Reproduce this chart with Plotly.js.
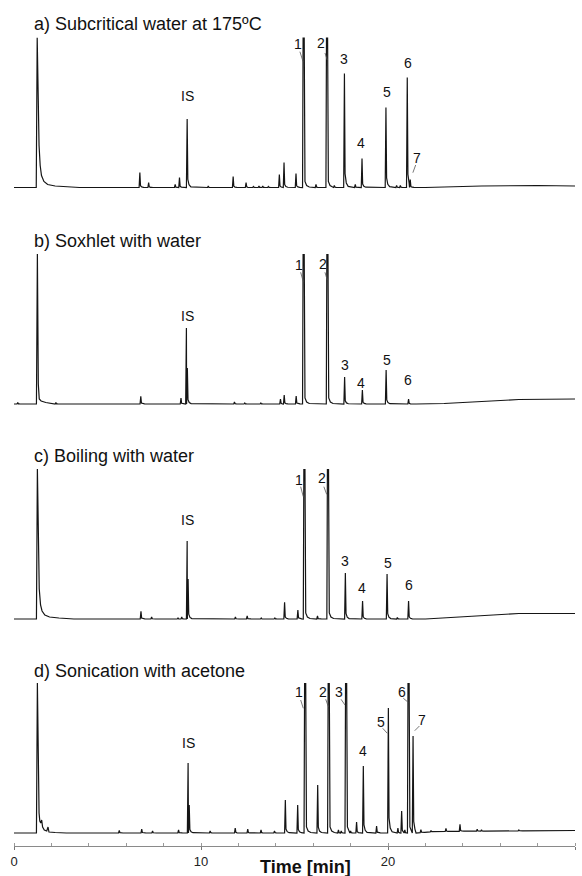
<!DOCTYPE html>
<html>
<head>
<meta charset="utf-8">
<script src="https://cdn.plot.ly/plotly-3.0.1.min.js"></script>
<style>html,body{margin:0;padding:0;background:#fff;}#chart{width:582px;height:876px;}</style>
</head>
<body>
<div id="chart"></div>
<script>
// ---------------- DATA ----------------
// times in min, signal heights in relative units (150 = full panel height)
const panelTitles = ["a) Subcritical water at 175ºC", "b) Soxhlet with water", "c) Boiling with water", "d) Sonication with acetone"];
const xTickVals = [0, 10, 20, 30];
const xTitle = "Time [min]";

// solvent front (explicit points)
const aSolventT = [1.19, 1.24, 1.29, 1.34, 1.40, 1.47, 1.60, 1.80, 2.20, 3.00, 3.50];
const aSolventY = [0, 150, 90, 42, 22, 12, 6, 3, 1.5, 0.5, 0];
const bSolventT = [1.20, 1.25, 1.30, 1.35, 1.45, 1.70, 2.20];
const bSolventY = [0, 150, 20, 5, 3, 1.5, 0.5];
const cSolventT = [1.20, 1.25, 1.30, 1.35, 1.42, 1.50, 1.65, 1.90, 2.40, 3.20];
const cSolventY = [0, 150, 80, 30, 14, 8, 4, 2, 1, 0];
const dSolventT = [1.20, 1.25, 1.30, 1.34, 1.38, 1.43, 1.48, 1.53, 1.62, 1.75, 1.82, 1.87, 2.20, 2.80];
const dSolventY = [0, 150, 60, 20, 12, 10, 13, 6, 3, 2, 6, 1, 0.5, 0];

// peaks: retention time / height
const aPeakT = [6.73, 7.20, 8.62, 8.85, 9.26, 10.39, 11.72, 12.41, 12.80, 13.10, 13.30, 13.60, 14.19, 14.44, 15.08, 15.49, 16.15, 16.74, 17.13, 17.67, 18.25, 18.61, 19.89, 20.46, 20.66, 21.03, 21.19];
const aPeakH = [15, 5, 3, 10, 68.5, 1.5, 11, 5, 1, 1.5, 1.5, 1, 13, 25, 14, 150, 3, 150, 2, 114, 3, 29, 80, 2, 2, 110, 8];
const bPeakT = [0.20, 2.24, 6.78, 8.93, 9.22, 9.27, 11.79, 12.34, 13.20, 14.25, 14.45, 15.09, 15.49, 16.76, 17.68, 18.63, 19.90, 21.10];
const bPeakH = [1.5, 1.5, 7.7, 6, 76, 36, 2, 1, 1, 5, 9, 8, 150, 150, 27, 14, 34, 5];
const cPeakT = [6.79, 7.36, 8.77, 8.97, 9.26, 9.31, 11.84, 12.47, 13.22, 13.95, 14.47, 15.18, 15.53, 16.23, 16.79, 17.72, 18.64, 19.95, 20.50, 21.10];
const cPeakH = [7.7, 2, 1, 2, 78, 40, 2, 3, 1, 1, 16.7, 9, 150, 3, 150, 46, 18, 45, 1.5, 18];
const dPeakT = [5.63, 6.83, 7.41, 8.80, 9.31, 9.37, 10.49, 11.83, 12.50, 13.21, 13.93, 14.51, 15.17, 15.57, 16.24, 16.83, 17.35, 17.50, 17.76, 18.00, 18.32, 18.68, 19.39, 20.02, 20.53, 20.73, 20.90, 21.10, 21.34, 21.76, 22.30, 23.10, 23.85, 24.77, 25.00, 27.00];
const dPeakH = [2.5, 4, 2, 3, 70, 28, 2, 5, 4, 3, 2, 33, 28, 150, 48, 150, 3, 2, 150, 2, 11, 67, 7, 125, 5, 22, 3, 150, 97, 3, 1, 3, 7, 2, 1.5, 1];

// baseline drift knots
const aBaseT = [0, 22, 25, 28, 30];
const aBaseY = [0, 0, 1.5, 2, 1.5];
const bBaseT = [0, 21.5, 23, 25, 27, 30];
const bBaseY = [0, 0, 0.5, 2.5, 4.5, 5];
const cBaseT = [0, 22, 24, 27, 30];
const cBaseY = [0, 0, 2, 5.5, 5.5];
const dBaseT = [0, 21.5, 22.5, 30];
const dBaseY = [0, 0, 1.5, 2.5];

// ---------------- BUILD ----------------
function baseAt(t, bt, by) {
  if (t <= bt[0]) return by[0];
  for (let i = 1; i < bt.length; i++) {
    if (t <= bt[i]) return by[i - 1] + (by[i] - by[i - 1]) * (t - bt[i - 1]) / (bt[i] - bt[i - 1]);
  }
  return by[by.length - 1];
}
function buildTrace(solT, solY, pkT, pkH, bt, by) {
  const segs = [];
  segs.push(solT.map((t, i) => [t, solY[i]]));
  pkT.forEach((t, i) => {
    const h = pkH[i];
    if (h >= 150) segs.push([[t - 0.06, 0], [t - 0.03, h], [t + 0.03, h], [t + 0.07, 6], [t + 0.16, 2], [t + 0.3, 0.5]]);
    else segs.push([[t - 0.04, 0], [t, h], [t + 0.035, 0.12 * h], [t + 0.1, 0.04 * h], [t + 0.2, 0.01 * h]]);
  });
  bt.forEach(t => segs.push([[t, 0]]));
  segs.sort((a, b) => a[0][0] - b[0][0]);
  const pts = [];
  segs.forEach((s, k) => {
    const next = k + 1 < segs.length ? segs[k + 1][0][0] : Infinity;
    s.forEach(p => {
      if (p[0] < next && (pts.length === 0 || p[0] > pts[pts.length - 1][0])) pts.push(p);
    });
  });
  return { x: pts.map(p => p[0]), y: pts.map(p => p[1] + baseAt(p[0], bt, by)) };
}

const series = [
  buildTrace(aSolventT, aSolventY, aPeakT, aPeakH, aBaseT, aBaseY),
  buildTrace(bSolventT, bSolventY, bPeakT, bPeakH, bBaseT, bBaseY),
  buildTrace(cSolventT, cSolventY, cPeakT, cPeakH, cBaseT, cBaseY),
  buildTrace(dSolventT, dSolventY, dPeakT, dPeakH, dBaseT, dBaseY)
];

// ---------------- LAYOUT ----------------
const W = 582, H = 876, MB = 30, PH = H - MB;
function py(pix) { return (PH - pix) / PH; }
const bases = [187.5, 404, 619, 833];
const titleY = [24, 241, 456, 671];
const FONT = "Arial, 'Liberation Sans', sans-serif";

const traces = series.map((s, i) => ({
  type: 'scatter', mode: 'lines', x: s.x, y: s.y,
  xaxis: 'x', yaxis: i === 0 ? 'y' : 'y' + (i + 1),
  line: { color: '#151515', width: 1.2 }, hoverinfo: 'skip', showlegend: false
}));

const layout = {
  width: W, height: H,
  margin: { l: 14, r: 7, t: 0, b: MB },
  paper_bgcolor: '#fff', plot_bgcolor: '#fff',
  showlegend: false,
  font: { family: FONT, color: '#1a1a1a' },
  xaxis: {
    range: [0, 30], anchor: 'free', position: 0,
    showline: true, linecolor: '#8a8a8a', linewidth: 1,
    ticks: 'outside', ticklen: 3, tickcolor: '#777', tickwidth: 1,
    tickmode: 'array', tickvals: xTickVals,
    minor: { tickmode: 'linear', dtick: 2, tick0: 0, ticks: 'inside', ticklen: 3, tickcolor: '#999' },
    showgrid: false, zeroline: false,
    tickfont: { size: 13, color: '#222', family: FONT }
  },
  annotations: [],
  shapes: []
};
bases.forEach((b, i) => {
  const key = i === 0 ? 'yaxis' : 'yaxis' + (i + 1);
  layout[key] = {
    domain: [py(b + 5), py(b - 150)], range: [-5, 150], anchor: 'x',
    visible: false, showgrid: false, zeroline: false, fixedrange: true
  };
  layout.annotations.push({
    xref: 'x', yref: 'paper', x: 0.96, y: py(titleY[i]), xanchor: 'left', yanchor: 'middle',
    text: panelTitles[i], showarrow: false, font: { size: 18, color: '#111', family: FONT }
  });
});

// peak labels: [text, time position, pixel y]
const labelSpecs = [
  ['IS', 9.28, 96], ['1', 15.17, 44], ['2', 16.43, 43.3], ['3', 17.66, 59.3], ['4', 18.56, 143], ['5', 19.95, 91.7], ['6', 21.07, 63.3], ['7', 21.55, 158.3],
  ['IS', 9.30, 316], ['1', 15.24, 265], ['2', 16.51, 264], ['3', 17.69, 365], ['4', 18.56, 382.7], ['5', 19.95, 360], ['6', 21.09, 380],
  ['IS', 9.30, 520], ['1', 15.26, 480], ['2', 16.49, 478.3], ['3', 17.72, 561], ['4', 18.61, 587.7], ['5', 19.99, 563.3], ['6', 21.12, 585],
  ['IS', 9.33, 742.7], ['1', 15.24, 692.3], ['2', 16.54, 691.7], ['3', 17.38, 692.3], ['4', 18.68, 750.7], ['5', 19.63, 722.3], ['6', 20.76, 691.7], ['7', 21.83, 720]
];
labelSpecs.forEach(s => layout.annotations.push({
  xref: 'x', yref: 'paper', x: s[1], y: py(s[2]), xanchor: 'center', yanchor: 'middle',
  text: s[0], showarrow: false, font: { size: 14, color: '#111', family: FONT }
}));
// leader lines: [t1, y1 pix, t2, y2 pix]
const leaderSpecs = [
  [15.29, 51.7, 15.46, 61.7], [16.63, 53, 16.75, 60], [21.48, 165, 21.33, 172.7],
  [15.33, 272.3, 15.47, 281.7], [16.63, 272.3, 16.75, 280],
  [15.33, 486.7, 15.47, 496.7], [16.57, 486.7, 16.72, 494.3],
  [15.33, 700, 15.47, 708.3], [16.67, 699.3, 16.81, 706.7], [17.49, 699.3, 17.70, 705],
  [19.72, 728.3, 19.96, 733.3], [20.82, 698.3, 21.08, 702.3], [21.68, 726, 21.43, 730.7]
];
leaderSpecs.forEach(s => layout.shapes.push({
  type: 'line', xref: 'x', yref: 'paper', x0: s[0], y0: py(s[1]), x1: s[2], y1: py(s[3]),
  line: { color: '#555', width: 0.8 }
}));
layout.annotations.push({
  xref: 'x', yref: 'paper', x: 15.6, y: py(867), xanchor: 'center', yanchor: 'middle',
  text: '<b>' + xTitle + '</b>', showarrow: false, font: { size: 18, color: '#111', family: FONT }
});

Plotly.newPlot('chart', traces, layout, { staticPlot: true, displayModeBar: false });
</script>
</body>
</html>
